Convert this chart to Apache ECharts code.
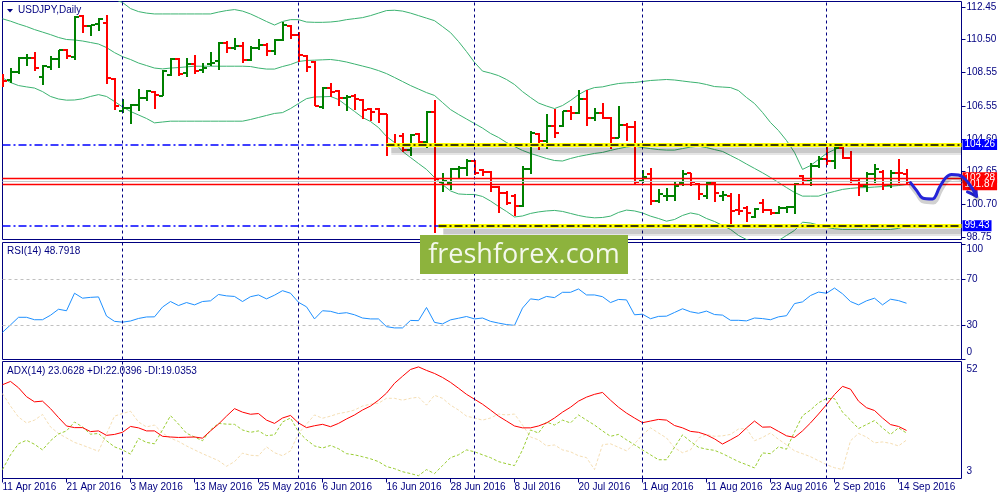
<!DOCTYPE html>
<html><head><meta charset="utf-8">
<script src="https://cdn.jsdelivr.net/npm/echarts@6.0.0/dist/echarts.min.js"></script>
<style>html,body{margin:0;padding:0;background:#fff;}#c{width:1000px;height:500px;}</style>
</head><body><div id="c"></div>
<script>
// ---------- data ----------
const tickLabels = ['11 Apr 2016','21 Apr 2016','3 May 2016','13 May 2016','25 May 2016','6 Jun 2016','16 Jun 2016','28 Jun 2016','8 Jul 2016','20 Jul 2016','1 Aug 2016','11 Aug 2016','23 Aug 2016','2 Sep 2016','14 Sep 2016'];
const tickStep = 8;
const monthStarts = [15, 37, 59, 80, 103];
const priceTicks = [112.45, 110.50, 108.55, 106.55, 104.60, 102.65, 100.70, 98.75];

const open = [108.13,108.07,108.56,109.38,109.42,108.29,108.88,109.32,109.91,109.48,
111.89,111.30,111.46,111.50,108.13,106.24,106.44,106.64,107.00,107.37,
107.13,108.38,109.36,108.52,109.08,108.68,109.08,109.21,110.31,110.01,
110.11,109.27,110.01,110.21,109.81,110.46,111.30,110.80,109.55,109.20,
106.50,107.63,107.43,107.04,107.13,106.90,106.38,106.38,106.05,104.32,
104.76,103.96,104.86,104.40,106.18,102.06,101.98,102.78,102.88,103.27,
102.73,102.62,101.75,101.35,101.19,100.59,102.82,104.86,104.46,105.39,
105.35,106.24,106.15,106.98,105.85,106.15,105.85,104.66,105.45,105.31,
102.12,102.48,100.89,101.19,101.19,101.98,102.54,101.94,101.19,101.98,
101.19,101.19,100.34,100.50,99.92,100.79,100.36,100.20,100.50,100.56,
102.38,102.08,102.97,103.41,103.27,104.07,103.47,102.08,101.78,102.48,
102.62,101.88,102.58,102.48];
const high = [108.48,108.82,109.48,109.67,109.77,108.98,109.55,109.91,109.97,111.89,
111.95,111.40,111.80,111.95,108.20,106.94,106.70,107.57,107.53,107.43,
108.68,109.42,109.42,109.42,109.61,109.12,109.75,110.35,110.40,110.61,
110.35,110.15,110.51,110.31,110.51,111.53,111.40,110.94,109.61,109.21,
107.69,107.93,107.49,107.18,107.28,106.94,106.44,106.44,106.09,104.86,
104.92,104.86,104.96,106.24,106.90,102.58,102.88,102.97,103.37,103.33,
102.82,102.67,101.82,101.48,101.29,102.97,105.05,104.96,106.05,106.38,
106.24,106.58,107.53,107.53,106.44,106.74,105.91,106.58,105.55,105.65,
102.73,102.88,101.59,101.69,102.08,102.73,102.58,101.98,102.08,102.08,
101.48,101.35,101.29,100.59,100.50,100.99,100.44,100.59,100.63,101.98,
102.42,103.17,103.57,104.26,104.36,104.16,103.86,102.18,102.62,103.13,
102.73,102.73,103.41,102.78];
const low = [107.69,107.93,108.48,108.92,108.62,107.83,108.72,108.82,109.36,109.27,
110.90,110.70,111.00,107.89,106.30,106.15,105.51,106.24,106.84,106.40,
107.13,108.32,108.36,108.29,108.48,108.52,108.92,108.72,109.71,109.87,
109.12,109.21,109.87,109.51,109.61,110.40,110.55,109.16,108.56,106.54,
106.38,107.10,106.58,106.24,106.34,105.79,105.65,105.55,103.57,104.16,
103.80,103.57,104.26,104.07,99.01,101.43,101.54,102.18,102.38,102.42,
102.38,101.43,100.20,100.64,100.00,100.56,102.48,103.96,104.01,104.66,
105.31,105.71,106.05,105.39,105.65,105.79,104.01,104.66,104.46,101.94,
101.98,100.69,100.79,100.89,100.89,101.78,101.78,100.95,101.03,100.83,
100.89,99.45,100.04,99.64,99.90,100.20,100.04,100.10,100.20,100.10,
101.88,101.78,102.88,103.07,102.78,103.41,101.98,101.19,101.43,101.98,
101.54,101.69,101.98,101.88];
const close = [108.03,108.56,109.38,109.42,108.82,108.92,109.32,109.87,109.51,111.86,
111.30,111.40,111.75,108.19,106.58,106.44,106.64,107.04,107.43,107.19,
108.62,109.36,108.48,109.06,108.62,108.82,109.12,110.31,110.01,110.11,
109.27,110.01,110.21,109.81,110.45,111.40,110.80,109.61,108.88,106.58,
107.63,107.40,107.04,107.10,106.98,106.30,106.18,106.09,104.26,104.22,
103.96,104.80,104.40,106.18,102.18,102.12,102.78,102.88,103.27,102.58,
102.62,101.75,101.35,100.79,100.59,102.82,104.96,104.46,105.39,104.92,
106.24,106.15,106.94,105.85,106.15,105.85,104.66,105.45,105.31,102.02,
102.32,100.89,101.29,101.21,101.82,102.48,102.02,101.33,101.98,101.35,
101.23,100.30,100.30,100.20,100.40,100.36,100.20,100.50,100.56,101.94,
102.08,102.97,103.41,103.27,104.07,103.47,102.08,101.78,102.48,102.78,
101.88,102.58,102.54,102.05];

const bbUpper = [115.25,115.25,115.09,114.87,114.58,114.49,114.48,114.29,114.12,114.05,
113.86,113.54,113.25,113.05,112.90,112.71,112.35,112.17,112.08,112.03,
112.03,112.03,112.03,112.03,112.03,112.03,112.03,112.14,112.23,112.29,
112.20,112.03,111.81,111.58,111.37,111.58,111.69,111.69,111.55,111.53,
111.53,111.55,111.60,111.69,111.75,111.81,111.93,112.08,112.23,112.25,
112.20,112.08,111.93,111.78,111.63,111.28,110.92,110.39,109.79,109.15,
108.63,108.51,108.36,108.13,107.83,107.41,107.06,106.73,106.55,106.40,
106.58,106.88,107.23,107.49,107.65,107.69,107.80,107.89,107.93,107.95,
108.01,108.07,108.10,108.13,108.10,108.04,107.98,107.93,107.83,107.71,
107.68,107.65,107.47,107.06,106.70,106.17,105.57,105.09,104.50,103.79,
102.78,103.01,103.37,103.73,103.96,104.16,104.18,104.20,104.20,104.23,
104.25,104.26,104.26,104.26];
const bbMid = [111.74,111.60,111.43,111.28,111.10,110.95,110.80,110.63,110.51,110.48,
110.42,110.33,110.24,110.03,109.73,109.49,109.32,109.11,108.96,108.81,
108.76,108.81,108.84,108.88,108.92,108.92,108.92,108.92,108.92,108.92,
108.92,108.90,108.81,108.75,108.75,108.90,109.02,109.20,109.26,109.28,
109.30,109.32,109.26,109.17,109.05,108.93,108.81,108.66,108.48,108.25,
108.01,107.77,107.56,107.35,107.18,106.76,106.34,106.05,105.78,105.51,
105.24,104.92,104.68,104.38,104.14,103.91,103.73,103.58,103.43,103.31,
103.28,103.43,103.55,103.64,103.73,103.79,103.91,104.02,104.11,104.16,
104.08,104.02,103.96,103.93,103.93,104.02,104.11,104.16,104.08,103.96,
103.85,103.61,103.37,103.10,102.84,102.58,102.30,102.00,101.70,101.41,
101.19,101.19,101.19,101.35,101.47,101.59,101.65,101.69,101.70,101.73,
101.76,101.78,101.82,101.88];
const bbLow = [108.23,107.95,107.77,107.69,107.62,107.41,107.12,106.97,106.90,106.91,
106.98,107.12,107.23,107.12,106.82,106.50,106.23,106.02,105.81,105.55,
105.60,105.65,105.65,105.65,105.65,105.65,105.65,105.65,105.65,105.65,
105.65,105.75,105.87,105.99,106.11,106.16,106.40,106.70,106.99,107.09,
107.10,107.12,106.94,106.58,106.23,105.87,105.63,105.27,104.74,104.38,
103.85,103.49,103.13,102.78,102.30,101.88,101.50,101.32,101.29,101.29,
101.17,100.90,100.58,100.28,99.95,100.01,100.16,100.25,100.31,100.34,
100.28,100.16,100.04,99.95,99.90,99.92,100.00,100.22,100.36,100.31,
100.19,100.00,99.86,99.70,99.80,100.04,100.19,100.10,99.86,99.68,
99.45,99.21,98.85,98.61,98.43,98.37,98.37,98.55,98.85,99.15,
99.64,99.59,99.47,99.33,99.25,99.21,99.21,99.21,99.21,99.21,
99.21,99.21,99.27,99.40];

const rsi = [23.6,30.0,36.6,36.6,34.5,34.5,38.4,43.6,42.3,57.5,
53.2,53.9,54.3,37.7,33.1,32.4,33.4,35.6,36.9,37.0,
45.5,50.3,46.8,49.4,47.4,50.3,50.9,56.4,55.2,54.7,
50.3,54.5,56.0,52.6,55.8,59.7,57.5,49.6,45.7,35.2,
42.3,41.8,39.9,40.6,38.8,36.0,35.2,35.2,28.5,27.4,
27.4,33.9,33.7,45.1,32.2,30.9,34.4,35.8,37.3,35.2,
36.0,33.1,31.6,30.3,29.6,44.6,52.6,51.7,54.7,53.7,
58.3,58.3,61.2,56.0,56.0,54.5,49.4,52.1,51.7,38.8,
39.3,35.4,37.4,37.6,40.8,44.0,41.4,40.1,42.0,39.0,
38.5,34.0,34.0,33.5,36.0,35.5,34.5,37.0,38.0,48.5,
50.0,55.5,58.5,57.5,62.0,57.0,50.3,47.4,50.9,53.2,
47.4,52.3,51.1,48.8];
const adx = [42.6,44.0,41.3,37.5,35.3,35.6,32.4,28.6,25.0,24.3,
24.3,22.6,22.9,21.0,21.4,22.3,24.8,24.2,22.9,22.9,
20.6,20.3,20.1,20.2,20.3,19.8,22.9,25.8,29.2,32.4,
30.9,30.0,30.3,27.5,26.1,28.4,29.5,26.3,24.3,25.1,
25.7,24.7,26.1,28.0,29.7,31.8,33.5,36.0,39.0,43.2,
46.2,49.1,50.2,48.7,47.4,45.7,43.6,41.1,38.5,36.4,
34.3,31.8,29.2,27.1,25.0,24.2,24.2,25.0,26.3,28.4,
30.9,33.0,35.6,37.3,38.5,39.3,36.0,33.0,30.5,28.4,
26.4,27.1,27.8,27.5,25.2,24.2,22.7,22.3,21.2,19.5,
17.3,19.1,21.0,24.2,27.1,24.5,24.6,22.7,20.8,20.1,
22.9,26.3,30.1,34.1,38.4,41.9,40.7,35.6,32.8,31.6,
28.4,25.6,24.8,23.1];
const plusDI = [6.4,12.7,17.4,18.9,17.2,14.8,18.7,21.6,22.9,26.7,
24.6,21.5,21.8,18.7,16.1,14.8,13.0,19.7,18.0,17.4,
23.3,29.4,25.8,21.9,20.3,18.7,23.3,26.1,25.8,25.7,
23.3,22.3,22.9,20.9,21.2,26.7,28.4,22.5,19.1,16.5,
15.6,16.7,15.3,13.2,12.7,11.9,11.0,9.8,7.7,6.8,
5.5,4.7,3.8,6.4,4.7,8.1,11.5,12.7,14.8,14.0,
12.7,11.5,9.8,8.9,8.1,14.8,23.3,22.0,26.7,25.4,
27.5,26.3,29.7,27.5,25.4,22.9,20.6,21.4,19.1,17.0,
14.8,12.7,10.6,10.6,15.9,21.2,18.4,15.9,15.1,14.6,
13.2,11.5,9.8,8.5,7.1,13.5,13.2,16.1,15.1,22.5,
29.4,31.8,34.9,36.7,36.7,30.9,27.5,23.9,25.6,27.3,
24.2,21.4,24.2,22.0];
const minusDI = [38.8,33.5,28.8,26.3,27.5,29.9,24.6,21.8,19.9,18.0,
16.8,15.5,14.2,21.6,29.2,30.3,31.3,26.7,24.6,25.4,
22.0,19.8,18.4,16.5,14.8,13.2,11.7,10.2,7.8,9.8,
13.4,12.5,12.3,16.1,13.6,12.3,14.4,21.8,25.8,29.7,
28.3,29.2,30.3,30.9,31.8,33.5,34.3,34.7,36.8,36.8,
36.0,36.8,37.3,33.9,38.1,36.8,33.9,31.8,29.2,28.4,
27.5,28.4,30.1,29.7,30.1,25.4,20.3,19.1,16.5,16.9,
14.8,14.0,12.3,11.5,6.4,17.0,17.4,15.9,14.4,17.4,
21.2,24.2,22.0,19.9,15.7,13.6,14.8,19.9,21.4,20.6,
20.8,21.4,23.7,23.9,18.7,20.1,22.0,19.3,17.0,14.4,
13.2,11.9,10.2,8.5,7.2,6.4,18.7,21.8,20.3,17.8,
18.2,17.6,16.5,19.0];

const levelBlue = [104.26, 99.43];
const levelRed = [102.28, 101.87];
const zoneStart = [48, 54.5];           // bar index where the yellow zone lines start
const forecastIdx = [113.5,114.25,115.0,116.25,117.125,117.875,118.625,119.5,120.375,121.125,121.75];
const forecastPx  = [101.99,101.53,101.08,101.02,101.71,102.27,102.48,102.45,102.18,101.71,101.19];
const arrowArms = [[120.625,101.44],[121.65,101.78]];
const rsiLevels = [30, 70];
const rsiTicks = [0, 30, 70, 100];
const adxTicks = [3, 52];
const texts = {title:'USDJPY,Daily', rsi:'RSI(14) 48.7918', adx:'ADX(14) 23.0628 +DI:22.0396 -DI:19.0353', wm:'freshforex.com'};

// ---------- styles ----------
const NAVY = '#000080', GREEN = '#008000', RED = '#ff0000', BB = '#3cb371';
const FONT = 'Liberation Sans';
const PX_PER_BAR = 8;
const X_MAX = 959 / PX_PER_BAR;        // main plot width / bar spacing
const X_MAX_WIDE = 997.5 / PX_PER_BAR; // overlay spanning to the window edge
const Y_MIN = 98.61, Y_MAX = 112.77;
const N = close.length;
const lastIdx = N - 1;

// half-pixel edges keep the 1px pane frames crisp
const grids = [
  {left:2.5, right:38.5, top:1.5, height:238, show:true},
  {left:2.5, right:38.5, top:242.5, height:117, show:true},
  {left:2.5, right:38.5, top:361.5, height:117, show:true},
  {left:2.5, right:0, top:1.5, height:238, show:false}
].map(g => Object.assign(g, {borderColor:NAVY, borderWidth:1, backgroundColor:'transparent', containLabel:false, outerBoundsMode:'none'}));

const labelIdx = tickLabels.map((_, k) => k * tickStep);
const xAxes = [0,1,2,3].map(k => ({
  type:'value', gridIndex:k, min:0, max:k === 3 ? X_MAX_WIDE : X_MAX, show:k === 2,
  axisLine:{show:false}, splitLine:{show:false},
  axisTick:{show:k===2, customValues:labelIdx, length:4, lineStyle:{color:NAVY}},
  axisLabel:{show:k===2, customValues:labelIdx, formatter:v => tickLabels[Math.round(v / tickStep)] || '',
    align:'left', margin:4, color:NAVY, fontSize:10, fontFamily:FONT}
}));

const yAxes = [
  {type:'value', gridIndex:0, position:'right', min:Y_MIN, max:Y_MAX,
   axisLine:{show:false, onZero:false}, splitLine:{show:false},
   axisTick:{show:true, customValues:priceTicks, length:4, lineStyle:{color:NAVY}},
   axisLabel:{customValues:priceTicks, formatter:v => v.toFixed(2), margin:5, color:NAVY, fontSize:10, fontFamily:FONT}},
  {type:'value', gridIndex:1, position:'right', min:0, max:101.5,
   axisLine:{show:false, onZero:false}, splitLine:{show:false},
   axisTick:{show:true, customValues:rsiTicks, length:4, lineStyle:{color:NAVY}},
   axisLabel:{customValues:rsiTicks, margin:5, color:NAVY, fontSize:10, fontFamily:FONT,
     formatter:v => v === 100 ? '{d|100}' : (v === 0 ? '{u|0}' : String(v)),
     rich:{d:{padding:[11,0,0,0], color:NAVY, fontSize:10, fontFamily:FONT}, u:{padding:[0,0,14,0], color:NAVY, fontSize:10, fontFamily:FONT}}}},
  {type:'value', gridIndex:2, position:'right', min:2.6, max:52.5,
   axisLine:{show:false, onZero:false}, splitLine:{show:false},
   axisTick:{show:false},
   axisLabel:{customValues:adxTicks, margin:5, color:NAVY, fontSize:10, fontFamily:FONT,
     formatter:v => v === 52 ? '{d|52}' : '{u|3}',
     rich:{d:{padding:[13,0,0,0], color:NAVY, fontSize:10, fontFamily:FONT}, u:{padding:[0,0,12,0], color:NAVY, fontSize:10, fontFamily:FONT}}}},
  {type:'value', gridIndex:3, min:Y_MIN, max:Y_MAX, show:false}
];

const markBase = {silent:true, symbol:['none','none'], animation:false, label:{show:false}};

const sepLine = k => ({
  type:'line', xAxisIndex:k, yAxisIndex:k, data:[], silent:true, z:1,
  markLine:Object.assign({}, markBase, {lineStyle:{color:NAVY, width:1, type:[3,3]},
    data: monthStarts.map(v => ({xAxis:v}))})
});

const lineS = (k, arr, color, width, type, z) => ({
  type:'line', xAxisIndex:k, yAxisIndex:k, data:arr.map((v,i)=>[i,v]), symbol:'none', showSymbol:false,
  clip:true, silent:true, z:z || 3, lineStyle:{color, width, type:type || 'solid'}
});

const dashDot = [8,3,2,3];
const levelLabel = (txt, bg) => ({show:true, position:'end', formatter:txt, distance:1, backgroundColor:bg,
  color:'#fff', fontSize:10, fontFamily:FONT, padding:[1,2,0,2]});

const levelSeries = (items, z, k) => ({
  type:'line', xAxisIndex:k || 0, yAxisIndex:k || 0, data:[], silent:true, z:z,
  markLine:Object.assign({}, markBase, {data:items})
});

// soft drop-shadow under the yellow zone lines (translucent offset strokes)
const SHADOW_DY = 0.33;
const zoneShade = levelSeries([].concat(...zoneStart.map((s,k) => [
  [{coord:[s + 0.6, levelBlue[k] - SHADOW_DY], lineStyle:{color:'rgba(0,0,0,0.10)', width:9, type:'solid'}}, {coord:[X_MAX, levelBlue[k] - SHADOW_DY]}],
  [{coord:[s + 0.6, levelBlue[k] - SHADOW_DY], lineStyle:{color:'rgba(0,0,0,0.12)', width:5, type:'solid'}}, {coord:[X_MAX, levelBlue[k] - SHADOW_DY]}]
])), 4.5);
const zoneYellow = levelSeries(zoneStart.map((s,k) =>
  [{coord:[s, levelBlue[k]], lineStyle:{color:'#ffff00', width:4, type:'solid'}}, {coord:[X_MAX, levelBlue[k]]}]), 5);
const zoneDash = levelSeries(zoneStart.map((s,k) =>
  [{coord:[s, levelBlue[k]], lineStyle:{color:'#000', width:1.5, type:dashDot}}, {coord:[X_MAX, levelBlue[k]]}]), 6);
const blueLines = levelSeries(levelBlue.map(v =>
  ({yAxis:v, lineStyle:{color:'#0000ff', width:1.5, type:dashDot}, label:levelLabel(v.toFixed(2), '#0000ff')})), 4);
const redLines = levelSeries([
  {yAxis:close[lastIdx], lineStyle:{color:'#c8c8c8', width:1, type:'solid'}}
].concat(levelRed.map(v =>
  ({yAxis:v, lineStyle:{color:RED, width:1.3, type:'solid'}, label:levelLabel(v.toFixed(2), RED)}))), 6);

const barsSeries = {
  type:'custom', xAxisIndex:0, yAxisIndex:0, silent:true, z:4, clip:true,
  data: close.map((c,i) => [i, open[i], high[i], low[i], c]),
  encode:{x:0, y:[1,2,3,4]},
  renderItem:(params, api) => {
    const i = api.value(0), o = api.value(1), h = api.value(2), l = api.value(3), c = api.value(4);
    const pH = api.coord([i,h]), pL = api.coord([i,l]), pO = api.coord([i,o]), pC = api.coord([i,c]);
    const x = Math.round(pH[0]);
    const col = c >= o ? GREEN : RED;
    const st = {stroke:col, lineWidth:2};
    const yo = Math.round(pO[1]), yc = Math.round(pC[1]);
    return {type:'group', children:[
      {type:'line', shape:{x1:x, y1:Math.round(pH[1]), x2:x, y2:Math.round(pL[1])}, style:st},
      {type:'line', shape:{x1:x-4, y1:yo, x2:x, y2:yo}, style:st},
      {type:'line', shape:{x1:x, y1:yc, x2:x+4, y2:yc}, style:st}
    ]};
  }
};

const arrowStyle = {color:'#2424d8', width:3, cap:'round', join:'round'};
const arrowShade = {color:'rgba(0,0,0,0.18)', width:5, cap:'round', join:'round'};
const tip = [forecastIdx[forecastIdx.length-1], forecastPx[forecastPx.length-1]];
const forecastShade = {
  type:'line', xAxisIndex:3, yAxisIndex:3, clip:false, silent:true, z:7, smooth:0.35,
  symbol:'none', showSymbol:false,
  data: forecastIdx.map((x,k) => [x + 0.1, forecastPx[k] - 0.18]),
  lineStyle: arrowShade
};
const forecastSeries = {
  type:'line', xAxisIndex:3, yAxisIndex:3, clip:false, silent:true, z:8, smooth:0.35,
  symbol:'none', showSymbol:false,
  data: forecastIdx.map((x,k) => [x, forecastPx[k]]),
  lineStyle: arrowStyle,
  markLine:Object.assign({}, markBase, {lineStyle:arrowStyle,
    data: arrowArms.map(a => [{coord:a}, {coord:tip}])})
};

const rsiSeries = Object.assign(lineS(1, rsi, '#1e90ff', 1), {
  markLine:Object.assign({}, markBase, {lineStyle:{color:'#c0c0c0', width:1, type:[3,3]}, data: rsiLevels.map(v => ({yAxis:v}))})
});

const option = {
  animation:false,
  backgroundColor:'#fff',
  textStyle:{fontFamily:FONT},
  title:[
    {text:texts.title, left:18, top:5, padding:0, textStyle:{color:NAVY, fontSize:10, fontWeight:'normal', fontFamily:FONT}},
    {text:texts.rsi, left:7, top:246, padding:0, textStyle:{color:NAVY, fontSize:10, fontWeight:'normal', fontFamily:FONT}},
    {text:texts.adx, left:7, top:366, padding:0, textStyle:{color:NAVY, fontSize:10, fontWeight:'normal', fontFamily:FONT}}
  ],
  grid: grids,
  xAxis: xAxes,
  yAxis: yAxes,
  graphic:[
    {type:'polygon', shape:{points:[[7,9],[13,9],[10,12.5]]}, style:{fill:NAVY}, z:50},
    {type:'rect', shape:{x:420, y:235, width:208, height:39}, style:{fill:'#8db33d'}, z:100},
    {type:'text', x:524, y:255, style:{text:texts.wm, fill:'#f4f8ec', font:'27px "Open Sans"', align:'center', verticalAlign:'middle'}, z:101}
  ],
  series:[
    sepLine(0), sepLine(1), sepLine(2),
    lineS(0, bbUpper, BB, 1), lineS(0, bbMid, BB, 1), lineS(0, bbLow, BB, 1),
    barsSeries,
    blueLines, zoneShade, zoneYellow, zoneDash, redLines,
    forecastShade, forecastSeries,
    rsiSeries,
    lineS(2, minusDI, '#f5deb3', 1, [3,2]),
    lineS(2, plusDI, '#9acd32', 1, [3,2]),
    lineS(2, adx, RED, 1)
  ]
};
const chart = echarts.init(document.getElementById('c'), null, {renderer:'canvas'});
chart.setOption(option);
</script></body></html>
